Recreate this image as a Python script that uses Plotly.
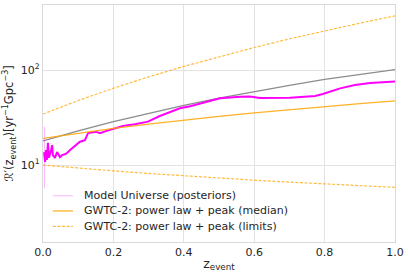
import plotly.graph_objects as go

# Magenta: model universe (posteriors) curve
z_model = [0.003, 0.006, 0.0085, 0.011, 0.014, 0.017, 0.023, 0.026, 0.028, 0.034,
           0.040, 0.048, 0.054, 0.065, 0.077, 0.094, 0.105, 0.119, 0.128, 0.151,
           0.162, 0.176, 0.190, 0.210, 0.227, 0.261, 0.298, 0.332, 0.361, 0.389,
           0.418, 0.446, 0.503, 0.560, 0.588, 0.616, 0.645, 0.702, 0.773, 0.795,
           0.844, 0.886, 0.929, 1.0]
r_model = [13.7, 10.8, 14.4, 11.3, 17.1, 11.9, 14.4, 16.2, 12.7, 11.9,
           13.7, 12.1, 12.7, 13.1, 14.4, 16.2, 17.6, 18.3, 21.7, 22.4,
           21.6, 22.6, 23.4, 24.3, 25.7, 26.8, 28.6, 32.8, 36.1, 39.6,
           41.5, 44.0, 50.3, 52.4, 52.6, 50.7, 50.7, 51.1, 53.2, 55.9,
           64.1, 69.5, 73.0, 75.7]
# faint posterior spread at very low z
z_spread = [0.004, 0.004]
r_spread = [25.3, 5.7]

z_grid = [0.0, 0.1, 0.2, 0.3, 0.4, 0.5, 0.6, 0.7, 0.8, 0.9, 1.0]
r_gray = [17.9, 22.9, 28.6, 35.1, 42.5, 50.5, 59.5, 69.0, 79.5, 90.0, 101.0]
r_median = [19.1, 21.6, 24.3, 26.9, 29.7, 32.5, 35.4, 38.3, 41.2, 44.3, 47.4]
r_upper = [34.4, 47.7, 64.3, 84.6, 109.0, 138.0, 172.5, 212.6, 258.0, 311.0, 371.0]
r_lower = [10.0, 9.28, 8.67, 8.15, 7.69, 7.29, 6.93, 6.61, 6.32, 6.06, 5.82]

legend_names = ["Model Universe (posteriors)",
                "GWTC-2: power law + peak (median)",
                "GWTC-2: power law + peak (limits)"]

x_ticks = [0.0, 0.2, 0.4, 0.6, 0.8, 1.0]
x_ticktext = ["0.0", "0.2", "0.4", "0.6", "0.8", "1.0"]
y_ticks = [10, 100]
y_ticktext = ["10<sup>1</sup>", "10<sup>2</sup>"]

pink = "rgba(255,0,255,0.3)"
orange = "rgba(255,165,0,0.85)"
orange_d = "rgba(255,165,0,0.75)"
dash = "3px,1.6px"

fig = go.Figure()
fig.add_trace(go.Scatter(x=z_grid, y=r_gray, mode="lines",
                         line=dict(color="#8c8c8c", width=1.3), showlegend=False))
fig.add_trace(go.Scatter(x=z_spread, y=r_spread, mode="lines",
                         line=dict(color=pink, width=1), showlegend=False))
fig.add_trace(go.Scatter(x=z_model, y=r_model, mode="lines",
                         line=dict(color="#ff00ff", width=2), name=legend_names[0],
                         showlegend=False))
fig.add_trace(go.Scatter(x=z_grid, y=r_median, mode="lines",
                         line=dict(color=orange, width=1.3), name=legend_names[1],
                         showlegend=False))
fig.add_trace(go.Scatter(x=z_grid, y=r_upper, mode="lines",
                         line=dict(color=orange_d, width=1.2, dash=dash), name=legend_names[2],
                         showlegend=False))
fig.add_trace(go.Scatter(x=z_grid, y=r_lower, mode="lines",
                         line=dict(color=orange_d, width=1.2, dash=dash),
                         showlegend=False))

# compact legend (matplotlib-style spacing)
leg_styles = [dict(color=pink, width=1), dict(color=orange, width=1.3),
              dict(color=orange_d, width=1.2, dash=dash)]
leg_y = [0.195, 0.131, 0.066]
for name, st, yy in zip(legend_names, leg_styles, leg_y):
    fig.add_shape(type="line", xref="paper", yref="paper", x0=0.028, x1=0.085,
                  y0=yy, y1=yy, line=st)
    fig.add_annotation(xref="paper", yref="paper", x=0.110, y=yy, text=name,
                       showarrow=False, xanchor="left", yanchor="middle",
                       font=dict(size=11, color="#262626"))

axis_common = dict(showline=True, linecolor="#d9d9d9", linewidth=1.2, mirror=True,
                   gridcolor="#e3e3e3", gridwidth=1, ticks="", zeroline=False,
                   tickfont=dict(size=11, color="#262626"), automargin=False)

fig.update_layout(
    width=409, height=275,
    margin=dict(l=43, r=14, t=5, b=33),
    paper_bgcolor="white", plot_bgcolor="white",
    font=dict(family="DejaVu Sans", size=11, color="#262626"),
    showlegend=False,
    xaxis=dict(range=[0, 1], tickvals=x_ticks, ticktext=x_ticktext,
               title=dict(text="z<sub>event</sub>", font=dict(size=12.5), standoff=0),
               **axis_common),
    yaxis=dict(type="log", range=[0.19, 2.684], tickvals=y_ticks, ticktext=y_ticktext,
               title=dict(text="ℛ′(z<sub>event</sub>)[yr<sup>−1</sup>Gpc<sup>−3</sup>]",
                          font=dict(size=11.5), standoff=4),
               **axis_common),
)

fig.write_html("out.html", config={"displayModeBar": False},
               post_script="document.body.style.margin='0';")
